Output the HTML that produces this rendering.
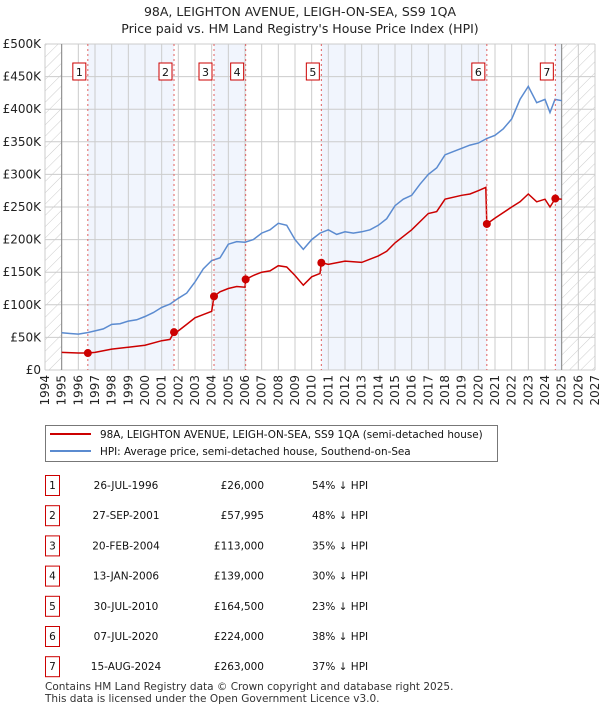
<!DOCTYPE html>
<html><head><meta charset="utf-8"><style>
body{margin:0;background:#fff;width:600px;height:710px;overflow:hidden;font-family:"DejaVu Sans","Liberation Sans",sans-serif;}
svg text{font-family:"DejaVu Sans","Liberation Sans",sans-serif;}
</style></head><body>
<svg id="chart" width="600" height="710" xmlns="http://www.w3.org/2000/svg">
<defs><pattern id="hatch" patternUnits="userSpaceOnUse" width="8" height="8" patternTransform="rotate(45)"><line x1="0" y1="0" x2="0" y2="8" stroke="#ccc" stroke-width="1"/></pattern></defs>
<text x="300" y="16" text-anchor="middle" font-size="12.5" fill="#222">98A, LEIGHTON AVENUE, LEIGH-ON-SEA, SS9 1QA</text>
<text x="300" y="33" text-anchor="middle" font-size="12.5" fill="#222">Price paid vs. HM Land Registry's House Price Index (HPI)</text>
<g id="bands"></g><g id="grid"></g><g id="series"></g><g id="markers"></g>
<rect x="45.5" y="425.5" width="452" height="36" fill="#fff" stroke="#777"/>
<line x1="50" y1="434" x2="91" y2="434" stroke="#cc0000" stroke-width="2"/>
<text x="100" y="438" font-size="10.4" fill="#111">98A, LEIGHTON AVENUE, LEIGH-ON-SEA, SS9 1QA (semi-detached house)</text>
<line x1="50" y1="451" x2="91" y2="451" stroke="#5b8bd0" stroke-width="2"/>
<text x="100" y="455" font-size="10.4" fill="#111">HPI: Average price, semi-detached house, Southend-on-Sea</text>
<g id="table"></g>
<text x="45" y="690" font-size="10.5" fill="#333">Contains HM Land Registry data © Crown copyright and database right 2025.</text>
<text x="45" y="702" font-size="10.5" fill="#333">This data is licensed under the Open Government Licence v3.0.</text>
</svg>
<script>
const yTicks=[0,50,100,150,200,250,300,350,400,450,500];
const yTickLabels=["£0","£50K","£100K","£150K","£200K","£250K","£300K","£350K","£400K","£450K","£500K"];
const xYears=[1994,1995,1996,1997,1998,1999,2000,2001,2002,2003,2004,2005,2006,2007,2008,2009,2010,2011,2012,2013,2014,2015,2016,2017,2018,2019,2020,2021,2022,2023,2024,2025,2026,2027];
const hpiT=[1995,1995.5,1996,1996.5,1997,1997.5,1998,1998.5,1999,1999.5,2000,2000.5,2001,2001.5,2002,2002.5,2003,2003.5,2004,2004.5,2005,2005.5,2006,2006.5,2007,2007.5,2008,2008.5,2009,2009.5,2010,2010.5,2011,2011.5,2012,2012.5,2013,2013.5,2014,2014.5,2015,2015.5,2016,2016.5,2017,2017.5,2018,2018.5,2019,2019.5,2020,2020.5,2021,2021.5,2022,2022.5,2023,2023.5,2024,2024.3,2024.6,2025];
const hpiV=[57,56,55,57,60,63,70,71,75,77,82,88,96,101,110,118,135,155,168,172,193,197,196,200,210,215,225,222,200,185,200,210,215,208,212,210,212,215,222,232,252,262,268,285,300,310,330,335,340,345,348,355,360,370,385,415,435,410,415,395,415,413];
const priceT=[1995,1996,1996.57,1997,1998,1999,2000,2001,2001.5,2001.74,2002,2002.5,2003,2003.5,2004,2004.14,2004.5,2005,2005.5,2006,2006.04,2006.5,2007,2007.5,2008,2008.5,2009,2009.5,2010,2010.5,2010.58,2011,2012,2013,2014,2014.5,2015,2016,2017,2017.5,2018,2019,2019.5,2020,2020.45,2020.51,2021,2022,2022.5,2023,2023.5,2024,2024.3,2024.62,2025];
const priceV=[27,26,26,27,32,35,38,45,47,58,60,70,80,85,90,113,120,125,128,127,139,145,150,152,160,158,145,130,143,148,164.5,162,167,165,175,182,195,215,240,243,262,268,270,275,280,224,233,250,258,270,258,262,250,263,262];
const saleT=[1996.57,2001.74,2004.14,2006.04,2010.58,2020.51,2024.62];
const saleV=[26,57.995,113,139,164.5,224,263];
const saleDates=["26-JUL-1996","27-SEP-2001","20-FEB-2004","13-JAN-2006","30-JUL-2010","07-JUL-2020","15-AUG-2024"];
const salePrices=["£26,000","£57,995","£113,000","£139,000","£164,500","£224,000","£263,000"];
const saleHpi=["54% ↓ HPI","48% ↓ HPI","35% ↓ HPI","30% ↓ HPI","23% ↓ HPI","38% ↓ HPI","37% ↓ HPI"];

const NS="http://www.w3.org/2000/svg";
const X0=45,X1=595,Y0=370,Y1=44;
const xs=t=>X0+(t-1994)/(2027-1994)*(X1-X0);
const ys=v=>Y0-v/500*(Y0-Y1);
function mk(tag,attrs,parent){const e=document.createElementNS(NS,tag);for(const k in attrs)e.setAttribute(k,attrs[k]);parent.appendChild(e);return e;}
const bands=document.getElementById('bands'),grid=document.getElementById('grid'),series=document.getElementById('series'),markers=document.getElementById('markers'),table=document.getElementById('table');
mk('rect',{x:X0,y:Y1,width:X1-X0,height:Y0-Y1,fill:'#fff'},bands);
for(let i=0;i<saleT.length;i+=2){
  const a=xs(saleT[i]);const b=i+1<saleT.length?xs(saleT[i+1]):xs(2025);
  const r=mk('rect',{x:a,y:Y1,width:b-a,height:Y0-Y1,fill:'#eef3fd',opacity:0.8},bands);
  
  
}
const h1=mk('rect',{x:X0,y:Y1,width:xs(1995)-X0,height:Y0-Y1,fill:'url(#hatch)'},bands);


const h2=mk('rect',{x:xs(2025),y:Y1,width:X1-xs(2025),height:Y0-Y1,fill:'url(#hatch)'},bands);


yTicks.forEach((v,i)=>{
  mk('line',{x1:X0,x2:X1,y1:ys(v),y2:ys(v),stroke:'#ccc'},grid);
  const t=mk('text',{x:X0-4,y:ys(v)+4,'text-anchor':'end','font-size':12,fill:'#222'},grid);
  t.textContent=yTickLabels[i];
  
  
});
xYears.forEach(y=>{
  mk('line',{x1:xs(y),x2:xs(y),y1:Y1,y2:Y0,stroke:'#ccc'},grid);
  const t=mk('text',{x:0,y:0,transform:`translate(${xs(y)+4},${Y0+5}) rotate(-90)`,'text-anchor':'end','font-size':12,fill:'#222'},grid);
  t.textContent=y;
  
  
});
mk('line',{x1:xs(1995),x2:xs(1995),y1:Y1,y2:Y0,stroke:'#888'},grid);
mk('line',{x1:xs(2025),x2:xs(2025),y1:Y1,y2:Y0,stroke:'#888'},grid);
function path(T,V){return T.map((t,i)=>(i?'L':'M')+xs(t).toFixed(1)+','+ys(V[i]).toFixed(1)).join('');}
const hp=mk('path',{d:path(hpiT,hpiV),fill:'none',stroke:'#5b8bd0','stroke-width':1.5},series);


const pp=mk('path',{d:path(priceT,priceV),fill:'none',stroke:'#cc0000','stroke-width':1.5},series);


saleT.forEach((t,i)=>{
  mk('line',{x1:xs(t),x2:xs(t),y1:Y1,y2:Y0,stroke:'#e06060','stroke-dasharray':'2,3'},markers);
  const c=mk('circle',{cx:xs(t),cy:ys(saleV[i]),r:4,fill:'#cc0000'},markers);
  
  
  const bx=xs(t)-15;
  const g=mk('g',{},markers);
  
  
  mk('rect',{x:bx,y:63,width:13,height:17,fill:'#fff',stroke:'#cc0000'},g);
  const tx=mk('text',{x:bx+6.5,y:76,'text-anchor':'middle','font-size':11,fill:'#111'},g);
  tx.textContent=i+1;
  const ry=475+i*30.2;
  const row=mk('g',{},table);
  
  
  mk('rect',{x:45.5,y:ry+0.5,width:14,height:20,fill:'#fff',stroke:'#cc0000'},row);
  const n=mk('text',{x:52.5,y:ry+14,'text-anchor':'middle','font-size':10.5,fill:'#111'},row);n.textContent=i+1;
  const d=mk('text',{x:126,y:ry+14,'text-anchor':'middle','font-size':10.5,fill:'#111'},row);d.textContent=saleDates[i];
  const p=mk('text',{x:264,y:ry+14,'text-anchor':'end','font-size':10.5,fill:'#111'},row);p.textContent=salePrices[i];
  const h=mk('text',{x:312,y:ry+14,'font-size':10.5,fill:'#111'},row);h.textContent=saleHpi[i];
});
</script>
</body></html>
